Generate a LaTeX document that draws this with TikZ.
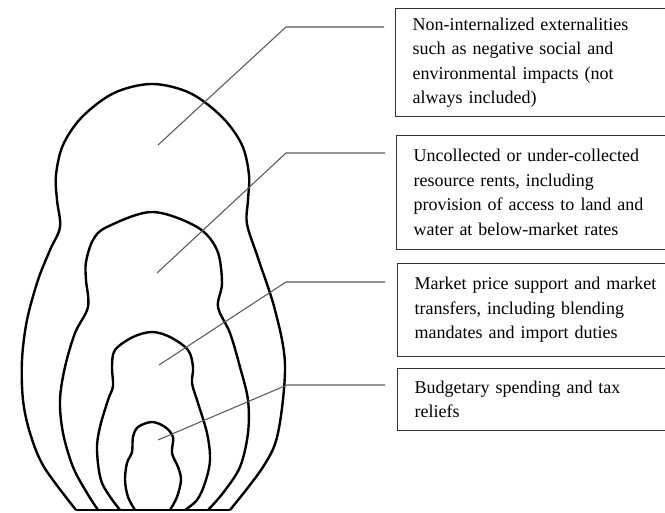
\documentclass[tikz,border=0pt]{standalone}
\usepackage{fontspec}
\setmainfont{Liberation Serif}
\begin{document}
\begin{tikzpicture}[x=0.75pt,y=-0.75pt]
\tikzset{doll/.style={line width=1.8pt,line join=round},
leader/.style={black!65,line width=0.8pt},
box/.style={draw=black!80,line width=0.8pt,anchor=north west,align=left,text width=190pt,inner xsep=12.75pt,font=\fontsize{13.5}{18.4}\selectfont}}
\useasboundingbox (0,0) rectangle (665,513);
\clip (0,0) rectangle (665,513);

% dolls
\draw[doll] plot[smooth,tension=0.55] coordinates {(76,510) (44,467) (30,433) (23,400) (22,360) (27,320) (38,280) (50,250) (60,227) (57,200) (56,175) (63,145) (82,117) (114,93) (152,84) (190,93) (222,117) (242,145) (249,175) (248,200) (247,224) (258,258) (275,310) (285,365) (278,433) (263,467) (230,510)};
\draw[doll] plot[smooth,tension=0.55] coordinates {(98,510) (87,493) (73,467) (63,433) (60,400) (65,367) (75,333) (88,307) (86,280) (86,262) (93,240) (107,227) (152,212) (197,227) (217,250) (222,283) (218,307) (230,333) (240,367) (248,400) (248,433) (240,467) (223,493) (208,510)};
\draw[doll] plot[smooth,tension=0.55] coordinates {(120,510) (102,483) (97,450) (100,427) (108,400) (113,386) (112,367) (115,350) (133,337) (152,332) (170,337) (188,350) (193,367) (192,383) (197,400) (207,433) (210,460) (205,483) (197,500) (185,510)};
\draw[doll] plot[smooth,tension=0.55] coordinates {(135,510) (128,497) (125,480) (127,463) (132,452) (133,437) (138,427) (152,422) (165,427) (173,437) (172,453) (178,467) (181,480) (177,497) (170,510)};
\draw[doll] (76,510) -- (230,510);

% text boxes
\node[box,minimum height=81pt] (ext) at (395,8) {Non-internalized externalities\\such as negative social and\\environmental impacts (not\\always included)};
\node[box,minimum height=85.5pt] (rent) at (396,135) {Uncollected or under-collected\\resource rents, including\\provision of access to land and\\water at below-market rates};
\node[box,minimum height=69.75pt] (mps) at (397,263) {Market price support and market\\transfers, including blending\\mandates and import duties};
\node[box,minimum height=46.5pt] (bud) at (397,368) {Budgetary spending and tax\\reliefs};

% leaders
\coordinate (p1) at (158,145); \coordinate (e1) at (286,27); \coordinate (q1) at (384,27);
\coordinate (p2) at (157,273); \coordinate (e2) at (286,153); \coordinate (q2) at (385,153);
\coordinate (p3) at (159,365); \coordinate (e3) at (286,282); \coordinate (q3) at (385,282);
\coordinate (p4) at (158,440); \coordinate (e4) at (287,385); \coordinate (q4) at (385,385);
\foreach \i in {1,...,4}
  \draw[leader] (p\i) -- (e\i) -- (q\i);
\end{tikzpicture}
\end{document}
